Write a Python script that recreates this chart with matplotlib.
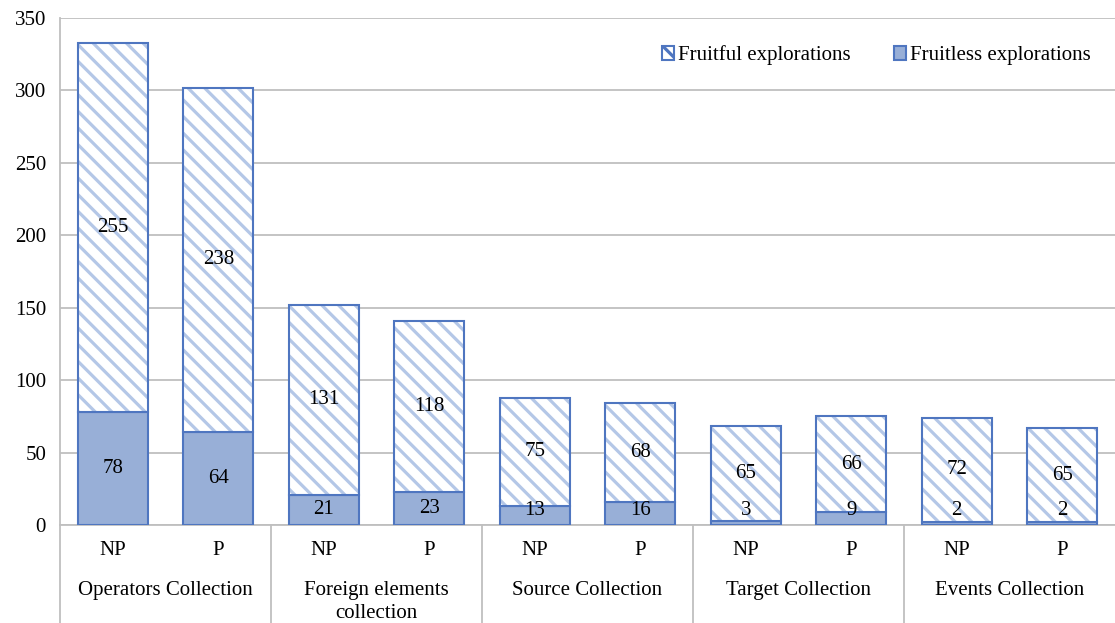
import numpy as np
import matplotlib.pyplot as plt
import matplotlib.transforms as mtransforms
from matplotlib.patches import Patch

plt.rcParams['font.family'] = ['Liberation Serif', 'DejaVu Serif']
plt.rcParams['hatch.linewidth'] = 2.3

# Data
groups = ['Operators Collection', 'Foreign elements\ncollection', 'Source Collection',
          'Target Collection', 'Events Collection']
subs = ['NP', 'P']
fruitless = [78, 64, 21, 23, 13, 16, 3, 9, 2, 2]
fruitful = [255, 238, 131, 118, 75, 68, 65, 66, 72, 65]

edge = '#4F76C0'
fill = '#98AFD7'
stripe = '#B4C7E7'
grid = '#BFBFBF'
fs = 15

fig = plt.figure(figsize=(11.15, 6.23), dpi=100)
ax = fig.add_axes([60 / 1115, 98 / 623, 1 - 60 / 1115, 507 / 623])

x = np.arange(len(fruitless))
w = 0.66
ax.bar(x, fruitless, w, color=fill, edgecolor=edge, linewidth=1.5, zorder=3)
# hatch first (stripe colour comes from edgecolor), then the blue outline on top
ax.bar(x, fruitful, w, bottom=fruitless, color='white', edgecolor=stripe,
       linewidth=0, hatch='\\\\', zorder=3)
ax.bar(x, fruitful, w, bottom=fruitless, fill=False, edgecolor=edge,
       linewidth=1.5, zorder=3)

for xi, lo, hi in zip(x, fruitless, fruitful):
    ax.text(xi, max(lo / 2, 10), str(lo), ha='center', va='center', fontsize=fs, zorder=4)
    ax.text(xi, lo + hi / 2, str(hi), ha='center', va='center', fontsize=fs, zorder=4)

ax.set_ylim(0, 350)
ax.set_xlim(-0.5, len(x) - 0.5)
ax.set_yticks(range(0, 351, 50))
ax.yaxis.grid(True, color=grid, linewidth=1.3, zorder=0)
ax.tick_params(axis='y', length=0, labelsize=fs, pad=10)
ax.set_xticks([])
for s in ['top', 'right', 'bottom']:
    ax.spines[s].set_visible(False)
ax.spines['left'].set_color(grid)
ax.spines['left'].set_linewidth(1.3)

# two-level category axis
trans = mtransforms.blended_transform_factory(ax.transData, ax.transAxes)
ax.plot([-0.5, len(x) - 0.5], [0, 0], color=grid, lw=1.3, transform=trans, clip_on=False)
for k in range(len(groups)):
    ax.plot([k * 2 - 0.5] * 2, [0, -0.2], color=grid, lw=1.3, transform=trans, clip_on=False)
for xi in x:
    ax.text(xi, -0.051, subs[xi % 2], ha='center', va='center', fontsize=fs,
            transform=trans)
for k, g in enumerate(groups):
    ax.text(k * 2 + 0.5, -0.111, g, ha='center', va='top', fontsize=fs,
            transform=trans, linespacing=1.25)

h_fruitful = Patch(facecolor='white', edgecolor=edge, hatch='\\\\', linewidth=1.5)
h_fruitless = Patch(facecolor=fill, edgecolor=edge, linewidth=1.5)
ax.legend(handles=[h_fruitful, h_fruitless],
          labels=['Fruitful explorations', 'Fruitless explorations'],
          loc='upper right', ncol=2, frameon=False, fontsize=fs,
          handlelength=0.6, handleheight=0.6, handletextpad=0.2,
          columnspacing=2.05, bbox_to_anchor=(0.995, 0.983))

fig.savefig('out.png', dpi=100)
